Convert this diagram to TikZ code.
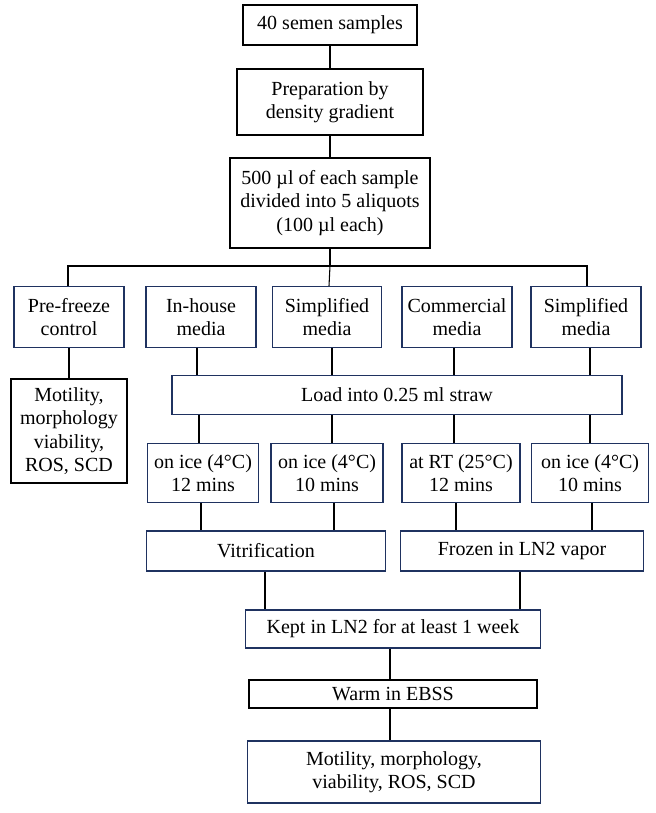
\documentclass[tikz,border=0pt]{standalone}
\usepackage{fontspec}
\setmainfont{Liberation Serif}
\usetikzlibrary{positioning,calc}
\definecolor{boxnavy}{RGB}{31,50,96}

\begin{document}
\begin{tikzpicture}[x=0.75pt, y=-0.75pt,
    every node/.style={font=\fontsize{15}{17.5}\selectfont, align=center, inner sep=0pt},
    sz/.style 2 args={minimum width=#1*0.75pt, minimum height=#2*0.75pt},
    blackbox/.style={draw=black, line width=1.3pt},
    navybox/.style={draw=boxnavy, line width=1pt},
    link/.style={draw=black, line width=0.8pt}]
    % Canvas
    \useasboundingbox (0,0) rectangle (656,813);

    % Top of the flow
    \node[blackbox, sz={174}{40}] (samples) at (330,25) {40 semen samples};
    \node[blackbox, line width=2pt, sz={186}{66}] (prep) at (330,102) {Preparation by\\density gradient};
    \node[blackbox, sz={200}{90}] (aliquot) at (330,203) {500 µl of each sample\\divided into 5 aliquots\\(100 µl each)};

    % Media row
    \node[navybox, sz={110}{61}] (control) at (69,317) {Pre-freeze\\control};
    \node[navybox, sz={110}{61}] (inhouse) at (201,317) {In-house\\media};
    \node[navybox, sz={109}{61}] (simpA) at (327,317) {Simplified\\media};
    \node[navybox, sz={110}{61}] (commercial) at (457,317) {Commercial\\media};
    \node[navybox, sz={110}{61}] (simpB) at (586,317) {Simplified\\media};

    % Loading and pre-freeze assessment
    \node[blackbox, line width=1.8pt, sz={116}{104}] (assessA) at (69,431) {Motility,\\morphology\\viability,\\ROS, SCD};
    \node[navybox, sz={450}{39}] (load) at (397,395) {Load into 0.25 ml straw};

    % Equilibration
    \node[navybox, sz={111}{59}] (iceA) at (203,473) {on ice (4°C)\\12 mins};
    \node[navybox, sz={112}{59}] (iceB) at (327,473) {on ice (4°C)\\10 mins};
    \node[navybox, sz={118}{59}] (room) at (461,473) {at RT (25°C)\\12 mins};
    \node[navybox, sz={117}{59}] (iceC) at (590,473) {on ice (4°C)\\10 mins};

    % Freezing
    \node[navybox, sz={239}{40}] (vitri) at (266,551) {Vitrification};
    \node[navybox, sz={243}{40}] (vapor) at (522,551) {Frozen in LN2 vapor};
    \node[navybox, sz={295}{38}] (store) at (393,629) {Kept in LN2 for at least 1 week};
    \node[blackbox, sz={288}{28}] (warm) at (393,694) {Warm in EBSS};
    \node[navybox, sz={293}{62}] (assessB) at (394,772) {Motility, morphology,\\viability, ROS, SCD};

    % Connectors
    \draw[link] (samples) -- (prep);
    \draw[link] (prep) -- (aliquot);
    \coordinate (split) at (330,266);
    \draw[link] (aliquot) -- (split);
    \draw[link] (control.north -| 68,0) |- (split) -| (simpB.north -| 587,0);
    \draw[link] (inhouse.north -| 197,0) -- (inhouse.north -| 197,266);
    \draw[link] (simpA.north -| 329,0) -- (split);
    \draw[link] (commercial.north -| 454,0) -- (commercial.north -| 454,266);
    \draw[link] (control) -- (assessA);
    \foreach \from/\xx in {inhouse/197, simpA/332, commercial/454, simpB/590}
        \draw[link] (\from.south -| \xx,0) -- (load.north -| \xx,0);
    \foreach \to/\xx in {iceA/199, iceB/332, room/454, iceC/590}
        \draw[link] (load.south -| \xx,0) -- (\to.north -| \xx,0);
    \draw[link] (iceA.south -| 201,0) -- (vitri.north -| 201,0);
    \draw[link] (iceB.south -| 334,0) -- (vitri.north -| 334,0);
    \draw[link] (room.south -| 456,0) -- (vapor.north -| 456,0);
    \draw[link] (iceC.south -| 592,0) -- (vapor.north -| 592,0);
    \draw[link] (vitri.south -| 265,0) -- (store.north -| 265,0);
    \draw[link] (vapor.south -| 520,0) -- (store.north -| 520,0);
    \draw[link] (store.south -| 390,0) -- (warm.north -| 390,0);
    \draw[link] (warm.south -| 390,0) -- (assessB.north -| 390,0);
\end{tikzpicture}
\end{document}
